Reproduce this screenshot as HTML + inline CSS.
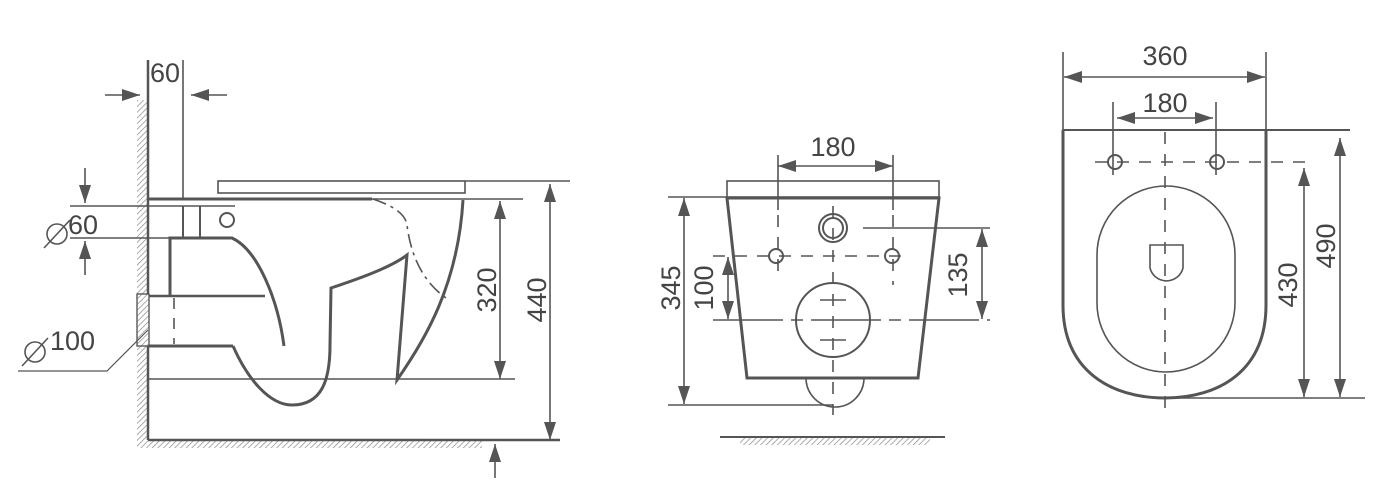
<!DOCTYPE html>
<html><head><meta charset="utf-8"><style>
html,body{margin:0;padding:0;background:#fff;}
svg{display:block;}
text{font-family:"Liberation Sans",sans-serif;fill:#444;font-size:27px;}
</style></head><body>
<svg width="1382" height="499" viewBox="0 0 1382 499" xmlns="http://www.w3.org/2000/svg">
<defs>
<pattern id="h" width="4" height="4" patternUnits="userSpaceOnUse" patternTransform="rotate(45)">
<line x1="0" y1="0" x2="0" y2="4" stroke="#888" stroke-width="1.4"/></pattern>
<marker id="b" markerWidth="18" markerHeight="12" refX="18" refY="6" orient="auto-start-reverse" markerUnits="userSpaceOnUse" viewBox="0 0 18 12">
<path d="M0,0 L18,6 L0,12 z" fill="#555"/></marker>
</defs>
<g stroke="#555" fill="none" stroke-width="1.6">
<!-- SIDE VIEW -->
<rect x="137" y="100" width="11" height="340" fill="url(#h)" stroke="none"/>
<rect x="137" y="440" width="345" height="8" fill="url(#h)" stroke="none"/>
<line x1="148" y1="60" x2="148" y2="440" stroke-width="2.5"/>
<line x1="148" y1="440" x2="560" y2="440" stroke-width="2.5"/>
<line x1="183" y1="60" x2="183" y2="199"/>
<line x1="105" y1="95" x2="140" y2="95" marker-end="url(#b)"/>
<line x1="227" y1="95" x2="191" y2="95" marker-end="url(#b)"/>
<rect x="218" y="181" width="247" height="12"/>
<line x1="465" y1="181" x2="570" y2="181"/>
<line x1="148" y1="199" x2="372" y2="199" stroke-width="3"/>
<line x1="372" y1="199" x2="523" y2="199"/>
<line x1="70" y1="206" x2="235" y2="206"/>
<line x1="70" y1="238" x2="170" y2="238"/>
<line x1="85" y1="168" x2="85" y2="203" marker-end="url(#b)"/>
<line x1="85" y1="275" x2="85" y2="241" marker-end="url(#b)"/>
<circle cx="227" cy="220" r="7" stroke-width="2"/>
<line x1="183" y1="206" x2="183" y2="238" stroke-width="2"/>
<line x1="200" y1="206" x2="200" y2="238" stroke-width="2"/>
<path d="M170,297 V238 H232 C258,250 278,300 284,346" stroke-width="3"/>
<line x1="137" y1="296" x2="265" y2="296" stroke-width="2.5"/>
<line x1="148" y1="346" x2="233" y2="346" stroke-width="3"/>
<line x1="174" y1="298" x2="174" y2="344" stroke-dasharray="11,9"/>
<rect x="137" y="294" width="12" height="52" fill="#fff" stroke-width="1.2"/>
<rect x="137" y="294" width="12" height="52" fill="url(#h)" stroke-width="1.2"/>
<polyline points="148,330 107,371 18,371" stroke-width="1.2"/>
<path d="M233,346 C248,380 270,405 292,405 C322,405 330,380 330,345 L331,288 C355,280 390,268 407,255 L397,380 C425,340 458,285 463,200" stroke-width="3"/>
<path d="M373,199 C390,205 405,212 407,225 C410,250 420,280 446,298" stroke-dasharray="14,5,3,5"/>
<line x1="148" y1="379" x2="515" y2="379"/>
<line x1="500" y1="201" x2="500" y2="379" marker-start="url(#b)" marker-end="url(#b)"/>
<line x1="550" y1="184" x2="550" y2="440" marker-start="url(#b)" marker-end="url(#b)"/>
<line x1="430" y1="440" x2="560" y2="440"/>
<line x1="495" y1="478" x2="495" y2="444" marker-end="url(#b)"/>
<circle cx="57" cy="234" r="10" stroke-width="1.6"/>
<line x1="44" y1="248" x2="70" y2="220" stroke-width="1.6"/>
<circle cx="35" cy="352" r="10" stroke-width="1.6"/>
<line x1="22" y1="366" x2="48" y2="338" stroke-width="1.6"/>
<!-- FRONT VIEW -->
<rect x="727" y="181" width="212" height="16"/>
<path d="M727,198 H939 L918,378 H747 Z" stroke-width="3"/>
<path d="M806,378 A29,29 0 0 0 864,378"/>
<line x1="833" y1="206" x2="833" y2="415" stroke-dasharray="12,10"/>
<line x1="778" y1="155" x2="778" y2="210"/>
<line x1="893" y1="155" x2="893" y2="210"/>
<line x1="778" y1="166" x2="893" y2="166" marker-start="url(#b)" marker-end="url(#b)"/>
<line x1="668" y1="197" x2="727" y2="197"/>
<line x1="668" y1="405" x2="833" y2="405"/>
<line x1="684" y1="198" x2="684" y2="404" marker-start="url(#b)" marker-end="url(#b)"/>
<line x1="713" y1="256" x2="907" y2="256" stroke-dasharray="12,10"/>
<line x1="778" y1="215" x2="778" y2="280" stroke-dasharray="12,10"/>
<line x1="893" y1="215" x2="893" y2="285" stroke-dasharray="12,10"/>
<circle cx="776" cy="256" r="7" stroke-width="2"/>
<circle cx="892" cy="256" r="7" stroke-width="2"/>
<circle cx="833" cy="228" r="14" stroke-width="2"/>
<circle cx="833" cy="228" r="10" stroke-width="2"/>
<line x1="728" y1="257" x2="728" y2="319" marker-start="url(#b)" marker-end="url(#b)"/>
<circle cx="833" cy="320" r="37" stroke-width="2"/>
<line x1="713" y1="320" x2="990" y2="320" stroke-dasharray="70,8,12,8"/>
<line x1="863" y1="228" x2="990" y2="228"/>
<line x1="982" y1="229" x2="982" y2="319" marker-start="url(#b)" marker-end="url(#b)"/>
<line x1="820" y1="300" x2="846" y2="300"/>
<line x1="820" y1="340" x2="846" y2="340"/>
<line x1="720" y1="437" x2="945" y2="437" stroke-width="2"/>
<rect x="740" y="438" width="190" height="7" fill="url(#h)" stroke="none"/>
<!-- TOP VIEW -->
<line x1="1063" y1="52" x2="1063" y2="130"/>
<line x1="1266" y1="52" x2="1266" y2="130"/>
<line x1="1064" y1="77" x2="1265" y2="77" marker-start="url(#b)" marker-end="url(#b)"/>
<line x1="1113" y1="102" x2="1113" y2="175"/>
<line x1="1216" y1="102" x2="1216" y2="175"/>
<line x1="1117" y1="118" x2="1213" y2="118" marker-start="url(#b)" marker-end="url(#b)"/>
<line x1="1063" y1="130" x2="1350" y2="130" stroke-width="2"/>
<path d="M1063,130 V305 C1063,370 1110,398 1165,398 C1220,398 1266,370 1266,305 V130" stroke-width="3"/>
<rect x="1097" y="186" width="138" height="186" rx="69" ry="69" stroke-width="1.6"/>
<line x1="1095" y1="162" x2="1308" y2="162" stroke-dasharray="12,10"/>
<circle cx="1115" cy="162" r="7" stroke-width="2"/>
<circle cx="1217" cy="162" r="7" stroke-width="2"/>
<path d="M1150,245 H1183 V268 A17,17 0 0 1 1150,268 Z" stroke-width="1.6"/>
<line x1="1165" y1="132" x2="1165" y2="412" stroke-dasharray="12,10"/>
<line x1="1165" y1="398" x2="1365" y2="398"/>
<line x1="1304" y1="168" x2="1304" y2="397" marker-start="url(#b)" marker-end="url(#b)"/>
<line x1="1340" y1="138" x2="1340" y2="397" marker-start="url(#b)" marker-end="url(#b)"/>
</g>
<g>
<text x="150" y="82" font-size="26">60</text>
<text x="68" y="234" font-size="26">60</text>
<text x="50" y="350" font-size="26">100</text>
<text transform="translate(496,290) rotate(-90)" text-anchor="middle" font-size="28">320</text>
<text transform="translate(546,300) rotate(-90)" text-anchor="middle" font-size="28">440</text>
<text x="833" y="156" text-anchor="middle" font-size="28">180</text>
<text transform="translate(680,288) rotate(-90)" text-anchor="middle" font-size="28">345</text>
<text transform="translate(713,288) rotate(-90)" text-anchor="middle" font-size="26">100</text>
<text transform="translate(967,275) rotate(-90)" text-anchor="middle" font-size="28">135</text>
<text x="1165" y="65" text-anchor="middle" font-size="28">360</text>
<text x="1165" y="112" text-anchor="middle" font-size="28">180</text>
<text transform="translate(1297,285) rotate(-90)" text-anchor="middle" font-size="28">430</text>
<text transform="translate(1335,246) rotate(-90)" text-anchor="middle" font-size="28">490</text>
</g>
</svg>
</body></html>
